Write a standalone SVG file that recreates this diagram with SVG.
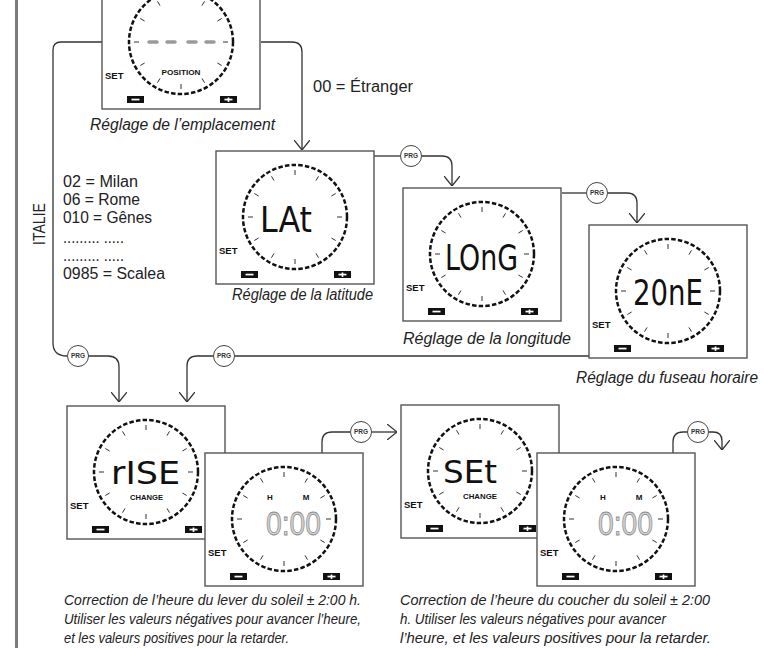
<svg xmlns="http://www.w3.org/2000/svg" xmlns:xlink="http://www.w3.org/1999/xlink" width="764" height="648" viewBox="0 0 764 648">
<style>
.lbl{font-family:"Liberation Sans",Arial,sans-serif;font-size:16px;fill:#222}
.cap{font-family:"Liberation Sans",Arial,sans-serif;font-style:italic;font-size:16px;fill:#222}
.bot{font-family:"Liberation Sans",Arial,sans-serif;font-style:italic;font-size:14.5px;fill:#222}
.set{font-family:"Liberation Sans",Arial,sans-serif;font-weight:bold;font-size:9.5px;fill:#111}
.small{font-family:"Liberation Sans",Arial,sans-serif;font-weight:bold;font-size:8px;fill:#111;text-anchor:middle}
.lcd{font-family:"DejaVu Sans",sans-serif;font-size:36px;fill:#111}
.lcds{font-family:"DejaVu Sans",sans-serif;font-size:32px;fill:#111}
.lcdg{font-family:"Liberation Sans",Arial,sans-serif;font-size:33px;fill:#d2d2d2;stroke:#8a8a8a;stroke-width:0.8}
.conn path{fill:none;stroke:#333;stroke-width:1.3}
.prg circle{fill:#fff;stroke:#444;stroke-width:1}
.prg text{font-family:"Liberation Sans",Arial,sans-serif;font-weight:bold;font-size:6.5px;fill:#333;text-anchor:middle}
.frame-rect{fill:#fff;stroke:#555;stroke-width:1.4}
.dial{fill:none;stroke:#111;stroke-width:2.5;stroke-dasharray:4.5 2.2}
.tick{stroke:#333;stroke-width:1}
.btn{fill:#111}
.btnw{fill:#fff}
.seg{stroke:#9a9a9a;stroke-width:3.5;stroke-linecap:round}
</style>
<defs>
<marker id="ah" viewBox="0 0 10 16" refX="10" refY="8" markerWidth="10" markerHeight="16" markerUnits="userSpaceOnUse" orient="auto">
<path d="M0,0 L10,8 L0,16" fill="none" stroke="#333" stroke-width="1.3"/>
</marker>
<g id="frame">
<rect class="frame-rect" x="0" y="0" width="158" height="133"/>
<circle class="dial" cx="79" cy="66" r="52"/>
<g class="tick">
<line x1="79" y1="24" x2="79" y2="19"/>
<line x1="100" y1="29.6" x2="102.5" y2="25.3"/>
<line x1="115.4" y1="45" x2="119.7" y2="42.5"/>
<line x1="121" y1="66" x2="126" y2="66"/>
<line x1="115.4" y1="87" x2="119.7" y2="89.5"/>
<line x1="100" y1="102.4" x2="102.5" y2="106.7"/>
<line x1="79" y1="108" x2="79" y2="113"/>
<line x1="58" y1="102.4" x2="55.5" y2="106.7"/>
<line x1="42.6" y1="87" x2="38.3" y2="89.5"/>
<line x1="37" y1="66" x2="32" y2="66"/>
<line x1="42.6" y1="45" x2="38.3" y2="42.5"/>
<line x1="58" y1="29.6" x2="55.5" y2="25.3"/>
</g>
<text class="set" x="3" y="103">SET</text>
<rect class="btn" x="25" y="120" width="17" height="7"/>
<rect class="btnw" x="29.5" y="122.7" width="8" height="1.7"/>
<rect class="btn" x="118" y="120" width="17" height="7"/>
<rect class="btnw" x="122.5" y="122.7" width="8" height="1.7"/>
<rect class="btnw" x="125.65" y="121.5" width="1.7" height="4.4"/>
</g>
</defs>

<rect x="15" y="0" width="3" height="648" fill="#7a7a7a"/>

<g id="connectors" class="conn">
<path d="M102,42 H61 Q53,42 53,50 V343 Q53,356 67,356"/>
<path d="M88,356 H108 Q119,356 119,367 V402" marker-end="url(#ah)"/>
<path d="M261,42 H292 Q302,42 302,52 V150" marker-end="url(#ah)"/>
<path d="M374,156 H400"/>
<path d="M422,156 H442 Q452,156 452,166 V186" marker-end="url(#ah)"/>
<path d="M562,193 H586"/>
<path d="M608,193 H627 Q637,193 637,203 V223" marker-end="url(#ah)"/>
<path d="M589,356 H235"/>
<path d="M213,356 H197 Q187,356 187,366 V402" marker-end="url(#ah)"/>
<path d="M322,453 V442 Q322,432 332,432 H350"/>
<path d="M372,432 H397" marker-end="url(#ah)"/>
<path d="M673,453 V442 Q673,432 683,432 H687"/>
<path d="M709,432 H713 Q722,432 722,441 V450" marker-end="url(#ah)"/>
</g>

<g id="prg-nodes" class="prg">
<g id="prg1"><circle cx="78" cy="356" r="10.5"/><text x="78" y="358.3">PRG</text></g>
<g id="prg2"><circle cx="411" cy="156" r="10.5"/><text x="411" y="158.3">PRG</text></g>
<g id="prg3"><circle cx="597" cy="193" r="10.5"/><text x="597" y="195.3">PRG</text></g>
<g id="prg4"><circle cx="224" cy="356" r="10.5"/><text x="224" y="358.3">PRG</text></g>
<g id="prg5"><circle cx="361" cy="432" r="10.5"/><text x="361" y="434.3">PRG</text></g>
<g id="prg6"><circle cx="698" cy="432" r="10.5"/><text x="698" y="434.3">PRG</text></g>
</g>

<g id="node-position">
<use xlink:href="#frame" href="#frame" x="102" y="-24"/>
<line class="seg" x1="149" y1="42" x2="157" y2="42"/>
<line class="seg" x1="167" y1="42" x2="175" y2="42"/>
<line class="seg" x1="188" y1="42" x2="196" y2="42"/>
<line class="seg" x1="206" y1="42" x2="214" y2="42"/>
<text class="small" x="181" y="75" textLength="39" lengthAdjust="spacingAndGlyphs">POSITION</text>
<text class="cap" x="90" y="130" textLength="185" lengthAdjust="spacingAndGlyphs">Réglage de l’emplacement</text>
</g>

<g id="node-latitude">
<use xlink:href="#frame" href="#frame" x="216" y="151"/>
<text class="lcd" x="260" y="232" textLength="52" lengthAdjust="spacingAndGlyphs">LAt</text>
<text class="cap" x="232" y="300" textLength="141" lengthAdjust="spacingAndGlyphs">Réglage de la latitude</text>
</g>

<g id="node-longitude">
<use xlink:href="#frame" href="#frame" x="403" y="188"/>
<text class="lcd" x="445" y="270" textLength="73" lengthAdjust="spacingAndGlyphs">LOnG</text>
<text class="cap" x="403" y="344" textLength="168" lengthAdjust="spacingAndGlyphs">Réglage de la longitude</text>
</g>

<g id="node-zone">
<use xlink:href="#frame" href="#frame" x="589" y="225"/>
<text class="lcd" x="633" y="305" textLength="70" lengthAdjust="spacingAndGlyphs">20nE</text>
<text class="cap" x="576" y="383" textLength="182" lengthAdjust="spacingAndGlyphs">Réglage du fuseau horaire</text>
</g>

<g id="node-rise">
<use xlink:href="#frame" href="#frame" x="67" y="406"/>
<text class="lcds" x="111" y="484" textLength="69" lengthAdjust="spacingAndGlyphs">rISE</text>
<text class="small" x="146.5" y="500" textLength="33" lengthAdjust="spacingAndGlyphs">CHANGE</text>
</g>

<g id="node-rise-time">
<use xlink:href="#frame" href="#frame" x="205" y="453"/>
<text class="small" x="270" y="500">H</text>
<text class="small" x="306" y="500">M</text>
<text class="lcdg" x="266" y="535" textLength="55" lengthAdjust="spacingAndGlyphs">0:00</text>
</g>

<g id="node-set">
<use xlink:href="#frame" href="#frame" x="401" y="405"/>
<text class="lcds" x="443" y="483" textLength="54" lengthAdjust="spacingAndGlyphs">SEt</text>
<text class="small" x="480" y="499" textLength="34" lengthAdjust="spacingAndGlyphs">CHANGE</text>
</g>

<g id="node-set-time">
<use xlink:href="#frame" href="#frame" x="537" y="453"/>
<text class="small" x="603" y="500">H</text>
<text class="small" x="639" y="500">M</text>
<text class="lcdg" x="598" y="535" textLength="55" lengthAdjust="spacingAndGlyphs">0:00</text>
</g>

<g id="labels">
<text class="lbl" x="313" y="92" textLength="100" lengthAdjust="spacingAndGlyphs">00 = Étranger</text>
<text class="lbl" transform="translate(45,224) rotate(-90)" text-anchor="middle" textLength="42" lengthAdjust="spacingAndGlyphs">ITALIE</text>
<text class="lbl" x="63" y="187" textLength="75" lengthAdjust="spacingAndGlyphs">02 = Milan</text>
<text class="lbl" x="63" y="205" textLength="77" lengthAdjust="spacingAndGlyphs">06 = Rome</text>
<text class="lbl" x="63" y="223" textLength="89" lengthAdjust="spacingAndGlyphs">010 = Gênes</text>
<text class="lbl" x="63" y="243" textLength="61" lengthAdjust="spacingAndGlyphs">......... .....</text>
<text class="lbl" x="63" y="261" textLength="61" lengthAdjust="spacingAndGlyphs">......... .....</text>
<text class="lbl" x="63" y="279" textLength="102" lengthAdjust="spacingAndGlyphs">0985 = Scalea</text>
<text class="bot" x="64" y="605" textLength="297" lengthAdjust="spacingAndGlyphs">Correction de l’heure du lever du soleil ± 2:00 h.</text>
<text class="bot" x="64" y="624" textLength="297" lengthAdjust="spacingAndGlyphs">Utiliser les valeurs négatives pour avancer l’heure,</text>
<text class="bot" x="64" y="643" textLength="225" lengthAdjust="spacingAndGlyphs">et les valeurs positives pour la retarder.</text>
<text class="bot" x="400" y="605" textLength="310" lengthAdjust="spacingAndGlyphs">Correction de l’heure du coucher du soleil ± 2:00</text>
<text class="bot" x="400" y="624" textLength="266" lengthAdjust="spacingAndGlyphs">h. Utiliser les valeurs négatives pour avancer</text>
<text class="bot" x="400" y="643" textLength="311" lengthAdjust="spacingAndGlyphs">l’heure, et les valeurs positives pour la retarder.</text>
</g>
</svg>
